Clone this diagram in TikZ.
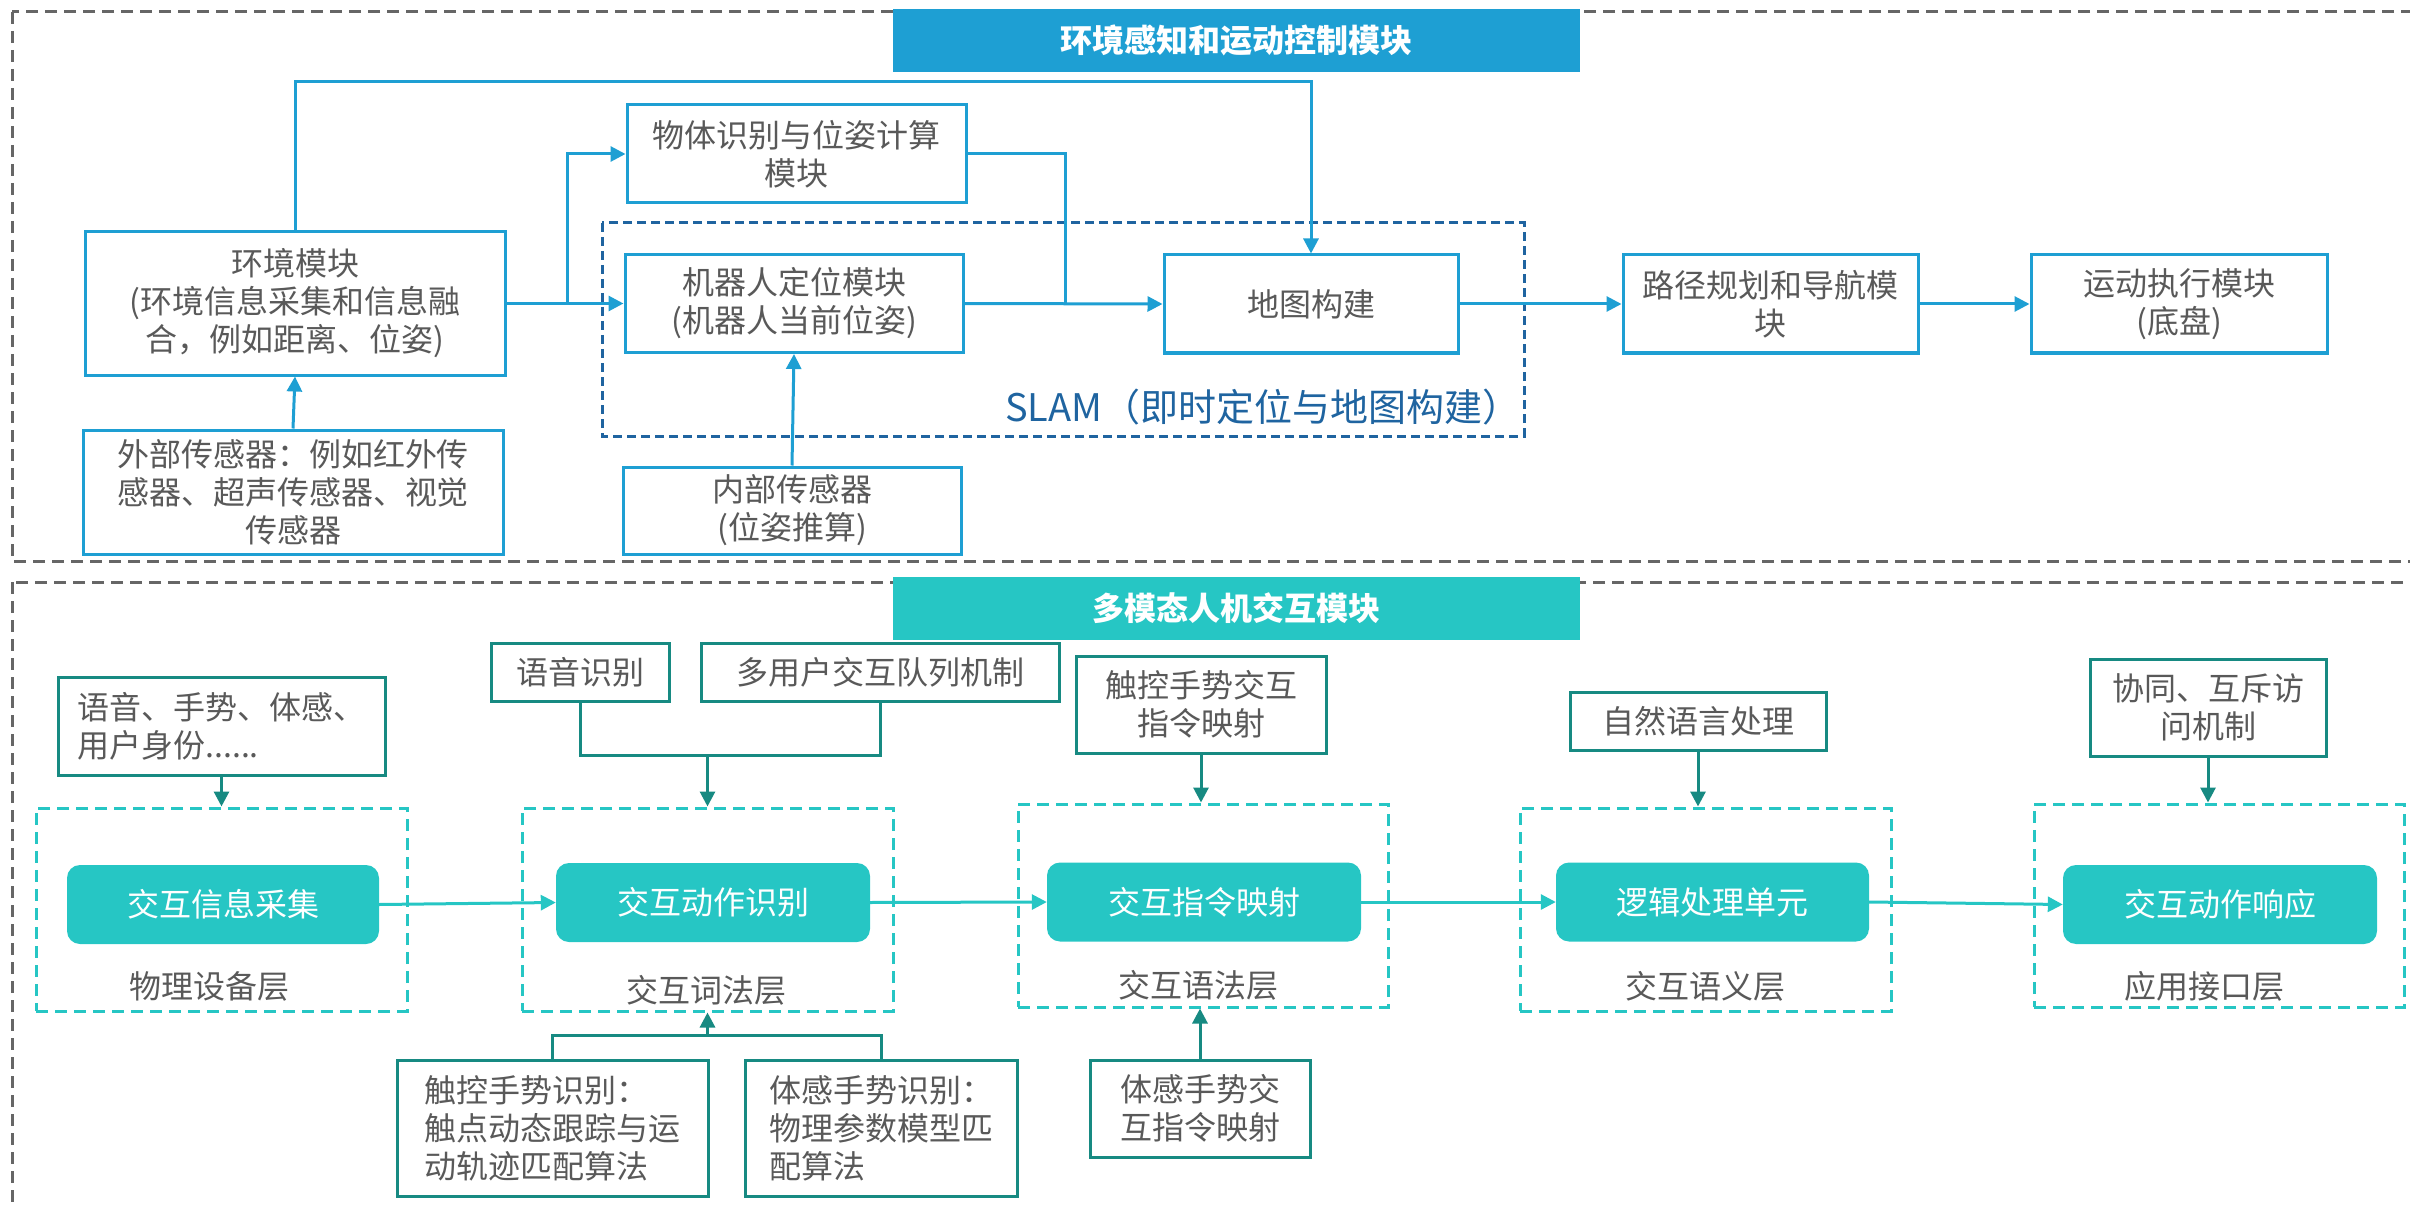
\documentclass[tikz,border=0pt]{standalone}
\usepackage{fontspec}
\setmainfont{Noto Sans CJK SC}
\usetikzlibrary{arrows.meta}
\definecolor{tblue}{HTML}{1E9FD3}
\definecolor{sblue}{HTML}{1F64A0}
\definecolor{tealA}{HTML}{26C6C4}
\definecolor{tealB}{HTML}{178A82}
\definecolor{txtc}{HTML}{595959}
\definecolor{ogrey}{HTML}{666666}
\begin{document}
\begin{tikzpicture}[x=1pt,y=-1pt,
  every node/.style={font=\fontsize{32}{38}\selectfont, text=txtc},
  bbox/.style={draw=tblue, line width=3pt, fill=white, align=center, inner sep=0pt},
  arr/.style={draw=tblue, line width=3pt, -{Triangle[length=15pt,width=15pt]}},
  ln/.style={draw=tblue, line width=3pt},
  sbox/.style={draw=tealB, line width=3pt, fill=white, inner sep=0pt},
  layerbox/.style={draw=tealA, line width=3pt, dash pattern=on 12pt off 7pt, inner sep=0pt},
  tnode/.style={fill=tealA, rounded corners=13pt, text=white, inner sep=0pt, minimum height=79pt},
  tarr/.style={draw=tealB, line width=3pt, -{Triangle[length=15pt,width=15pt]}},
  tln/.style={draw=tealB, line width=3pt},
  harr/.style={draw=tealA, line width=3pt, -{Triangle[length=15pt,width=15pt]}},
  outer/.style={draw=ogrey, line width=3pt, dash pattern=on 12pt off 7pt},
  titlebox/.style={inner sep=0pt, text=white, font=\fontsize{32}{38}\selectfont\bfseries}
]
\useasboundingbox (0,0) rectangle (2410,1206);

% ---------- top section ----------
\draw[outer] (12,12) rectangle (2440,561);
\fill[tblue] (893,9) rectangle (1580,72);
\node[titlebox] (title1) at (1236.5,40.5) {环境感知和运动控制模块};

\draw[draw=sblue, line width=3pt, dash pattern=on 9pt off 5pt] (602,223) rectangle (1524,436);
\node[anchor=west, inner sep=0pt, text=sblue, font=\fontsize{38}{42}\selectfont] (slam) at (1005,407) {SLAM（即时定位与地图构建）};

\node[bbox, minimum width=420pt, minimum height=143pt] (env) at (295,303.5) {环境模块\\(环境信息采集和信息融\\合，例如距离、位姿)};
\node[bbox, minimum width=420pt, minimum height=124pt] (ext) at (293,492) {外部传感器：例如红外传\\感器、超声传感器、视觉\\传感器};
\node[bbox, minimum width=339pt, minimum height=98pt] (obj) at (796.5,154) {物体识别与位姿计算\\模块};
\node[bbox, minimum width=338pt, minimum height=98pt] (loc) at (794,303.5) {机器人定位模块\\(机器人当前位姿)};
\node[bbox, minimum width=338pt, minimum height=87pt] (inner) at (792,510.5) {内部传感器\\(位姿推算)};
\node[bbox, minimum width=294pt, minimum height=98pt] (map) at (1311,304) {地图构建};
\node[bbox, minimum width=295pt, minimum height=98pt] (path) at (1770.5,304) {路径规划和导航模\\块};
\node[bbox, minimum width=296pt, minimum height=98pt] (motion) at (2179,304) {运动执行模块\\(底盘)};

\coordinate (topbus) at (0,82);
\coordinate (br) at (567,0);
\coordinate (jn) at (1065,0);
\draw[arr] (env.north) -- (env.north |- topbus) -- (map.north |- topbus) -- (map.north);
\draw[arr] (env.east) -- (loc.west);
\draw[arr] (env.east -| br) |- (obj.west);
\draw[ln] (obj.east) -| (jn |- map.west);
\draw[arr] (loc.east) -- (map.west);
\draw[arr] (map.east) -- (path.west);
\draw[arr] (path.east) -- (motion.west);
\draw[arr] (ext.north) -- (env.south);
\draw[arr] (inner.north) -- (loc.south);

% ---------- bottom section ----------
\draw[outer] (12,582) rectangle (2440,1240);
\fill[tealA] (893,577) rectangle (1580,640);
\node[titlebox] (title2) at (1236.5,608.5) {多模态人机交互模块};

\node[sbox, align=left, minimum width=327pt, minimum height=98pt] (voice) at (221.5,726) {语音、手势、体感、\\用户身份......};
\node[sbox, minimum width=178pt, minimum height=58pt] (asr) at (580,672) {语音识别};
\node[sbox, minimum width=358pt, minimum height=58pt] (queue) at (880,672) {多用户交互队列机制};
\node[sbox, align=center, minimum width=250pt, minimum height=97pt] (touchmap) at (1201,704.5) {触控手势交互\\指令映射};
\node[sbox, minimum width=256pt, minimum height=58pt] (nlp) at (1698,721) {自然语言处理};
\node[sbox, align=center, minimum width=236pt, minimum height=97pt] (mutex) at (2208,707.5) {协同、互斥访\\问机制};

\node[layerbox, minimum width=371pt, minimum height=203pt] (L1) at (221.5,909.5) {};
\node[layerbox, minimum width=371pt, minimum height=203pt] (L2) at (707.5,909.5) {};
\node[layerbox, minimum width=370pt, minimum height=203pt] (L3) at (1203,905.5) {};
\node[layerbox, minimum width=371pt, minimum height=203pt] (L4) at (1705.5,909.5) {};
\node[layerbox, minimum width=370pt, minimum height=203pt] (L5) at (2219,905.5) {};

\node (l1) at (209,986) {物理设备层};
\node (l2) at (706,990) {交互词法层};
\node (l3) at (1198,985) {交互语法层};
\node (l4) at (1705,986) {交互语义层};
\node (l5) at (2204,986) {应用接口层};

\node[tnode, minimum width=312pt] (n1) at (223,904.5) {交互信息采集};
\node[tnode, minimum width=314pt] (n2) at (713,902.5) {交互动作识别};
\node[tnode, minimum width=314pt] (n3) at (1204,902) {交互指令映射};
\node[tnode, minimum width=313pt] (n4) at (1712.5,902) {逻辑处理单元};
\node[tnode, minimum width=314pt] (n5) at (2220,904.5) {交互动作响应};

\node[sbox, align=left, minimum width=311pt, minimum height=136pt] (touchrec) at (552.5,1128) {触控手势识别：\\触点动态跟踪与运\\动轨迹匹配算法};
\node[sbox, align=left, minimum width=272pt, minimum height=136pt] (bodyrec) at (881,1128) {体感手势识别：\\物理参数模型匹\\配算法};
\node[sbox, align=left, minimum width=220pt, minimum height=97pt] (bodymap) at (1200,1108.5) {体感手势交\\互指令映射};

\coordinate (busA) at (0,755);
\coordinate (busB) at (0,1035);
\draw[tarr] (voice.south) -- (voice.south |- L1.north);
\draw[tln] (asr.south) -- (asr.south |- busA) -- (queue.south |- busA) -- (queue.south);
\draw[tarr] (L2.north |- busA) -- (L2.north);
\draw[tarr] (touchmap.south) -- (touchmap.south |- L3.north);
\draw[tarr] (nlp.south) -- (nlp.south |- L4.north);
\draw[tarr] (mutex.south) -- (mutex.south |- L5.north);
\draw[tln] (touchrec.north) -- (touchrec.north |- busB) -- (bodyrec.north |- busB) -- (bodyrec.north);
\draw[tarr] (L2.south |- busB) -- (L2.south);
\draw[tarr] (bodymap.north) -- (bodymap.north |- L3.south);

\draw[harr] (n1.east) -- (n2.west);
\draw[harr] (n2.east) -- (n3.west);
\draw[harr] (n3.east) -- (n4.west);
\draw[harr] (n4.east) -- (n5.west);
\end{tikzpicture}
\end{document}
